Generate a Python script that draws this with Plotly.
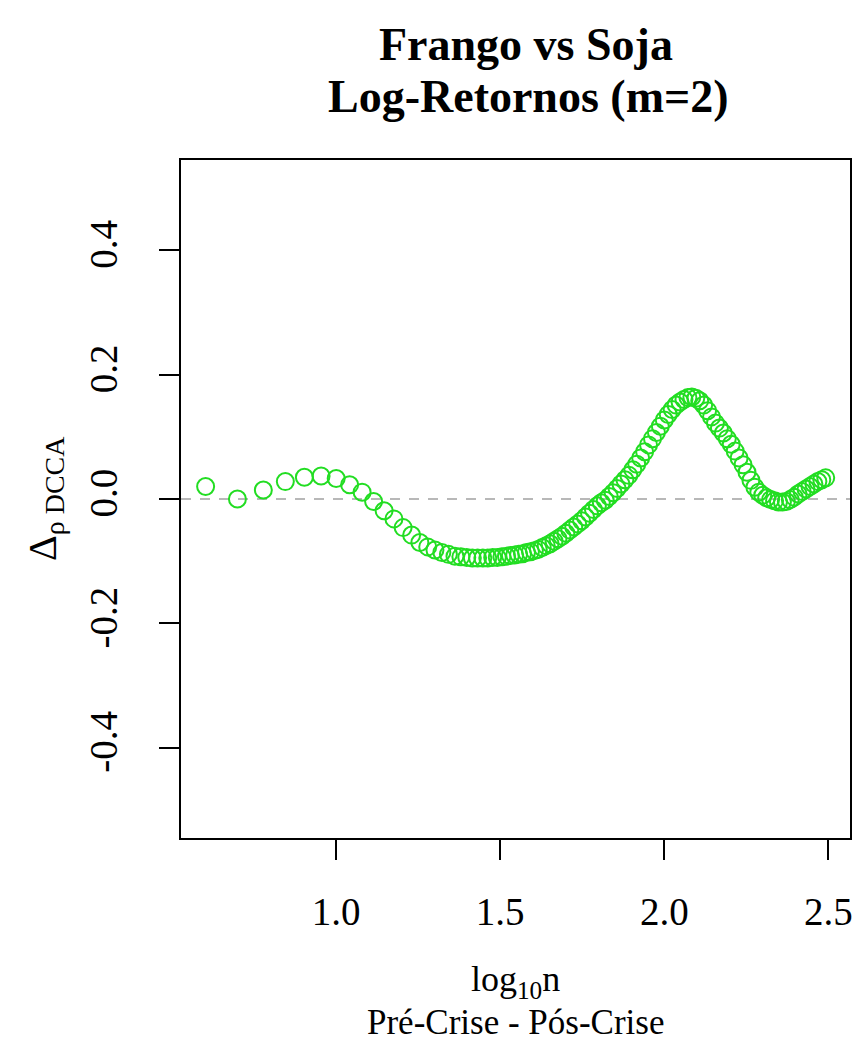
import plotly.graph_objects as go

# log10(n) window sizes
log_n = [0.602, 0.699, 0.778, 0.845, 0.903, 0.954, 1.000, 1.041, 1.079, 1.114,
         1.146, 1.176, 1.204, 1.230, 1.255, 1.279, 1.301, 1.322, 1.342, 1.362,
         1.380, 1.398, 1.415, 1.431, 1.447, 1.462, 1.477, 1.491, 1.505, 1.519,
         1.531, 1.544, 1.556, 1.568, 1.580, 1.592, 1.604, 1.616, 1.628, 1.640,
         1.652, 1.664, 1.676, 1.688, 1.700, 1.712, 1.724, 1.736, 1.748, 1.760,
         1.772, 1.784, 1.796, 1.808, 1.820, 1.832, 1.844, 1.856, 1.868, 1.880,
         1.892, 1.904, 1.916, 1.928, 1.940, 1.952, 1.964, 1.976, 1.988, 2.000,
         2.012, 2.024, 2.036, 2.048, 2.060, 2.072, 2.084, 2.096, 2.108, 2.120,
         2.132, 2.144, 2.156, 2.168, 2.180, 2.192, 2.204, 2.216, 2.228, 2.240,
         2.252, 2.264, 2.276, 2.288, 2.300, 2.312, 2.324, 2.336, 2.348, 2.360,
         2.372, 2.384, 2.396, 2.408, 2.420, 2.432, 2.444, 2.456, 2.468, 2.480,
         2.492]

# Delta rho_DCCA (pre-crisis minus post-crisis)
delta_rho = [0.020, 0.000, 0.0145, 0.028, 0.035, 0.037, 0.033, 0.023, 0.011, -0.004,
             -0.019, -0.032, -0.046, -0.058, -0.070, -0.077, -0.082, -0.086, -0.089, -0.092,
             -0.093, -0.094, -0.095, -0.095, -0.095, -0.095, -0.094, -0.094, -0.093, -0.092,
             -0.091, -0.090, -0.089, -0.088, -0.086, -0.085, -0.083, -0.081, -0.078, -0.075,
             -0.072, -0.068, -0.064, -0.060, -0.055, -0.050, -0.045, -0.040, -0.035, -0.029,
             -0.023, -0.017, -0.011, -0.006, -0.002, 0.004, 0.010, 0.017, 0.024, 0.031,
             0.038, 0.047, 0.056, 0.066, 0.076, 0.087, 0.097, 0.107, 0.117, 0.127,
             0.136, 0.144, 0.151, 0.156, 0.160, 0.163, 0.164, 0.162, 0.158, 0.151,
             0.142, 0.132, 0.122, 0.114, 0.106, 0.097, 0.088, 0.077, 0.066, 0.055,
             0.043, 0.030, 0.019, 0.011, 0.006, 0.002, -0.001, -0.003, -0.005, -0.005,
             -0.004, -0.001, 0.003, 0.008, 0.012, 0.016, 0.020, 0.024, 0.028, 0.031,
             0.034]

x_ticks = [1.0, 1.5, 2.0, 2.5]
x_tick_labels = ["1.0", "1.5", "2.0", "2.5"]
y_ticks = [-0.4, -0.2, 0.0, 0.2, 0.4]
y_tick_labels = ["-0.4", "-0.2", "0.0", "0.2", "0.4"]

FONT = "Liberation Serif, Times New Roman, serif"
XR = [0.527, 2.566]
YR = [-0.545, 0.545]

W, H = 854, 1043
PL, PR, PT, PB = 181, 850, 160, 838  # plot box in page pixels


def px(xpix):
    return (xpix - PL) / (PR - PL)


def py(ypix):
    return (PB - ypix) / (PB - PT)


fig = go.Figure()

# reference line at zero
fig.add_trace(go.Scatter(
    x=XR, y=[0, 0], mode="lines",
    line=dict(color="#b8b8b8", width=2, dash="10px,9px"),
    hoverinfo="skip", showlegend=False,
))

fig.add_trace(go.Scatter(
    x=log_n, y=delta_rho, mode="markers",
    marker=dict(symbol="circle-open", size=17, color="#22dd22",
                line=dict(width=2, color="#22dd22")),
    showlegend=False,
))

fig.update_layout(
    width=W, height=H,
    margin=dict(l=PL, r=W - PR, t=PT, b=H - PB, autoexpand=False),
    paper_bgcolor="white", plot_bgcolor="white",
    font=dict(family=FONT, size=38, color="black"),
    xaxis=dict(
        range=XR, showgrid=False, zeroline=False, automargin=False,
        showline=True, linecolor="black", linewidth=2, mirror=True,
        ticks="outside", ticklen=20, tickwidth=2, tickcolor="black",
        tickvals=x_ticks, ticktext=x_tick_labels,
        ticklabelstandoff=18,
        tickfont=dict(family=FONT, size=39, color="black"),
    ),
    yaxis=dict(
        range=YR, showgrid=False, zeroline=False, automargin=False,
        showline=True, linecolor="black", linewidth=2, mirror=True,
        ticks="outside", ticklen=20, tickwidth=2, tickcolor="black",
        tickvals=y_ticks, ticktext=y_tick_labels, tickangle=-90,
        ticklabelstandoff=26,
        tickfont=dict(family=FONT, size=39, color="black"),
    ),
    annotations=[
        dict(text="<b>Frango vs Soja</b>", xref="paper", yref="paper",
             x=px(526), y=py(44), xanchor="center", yanchor="middle",
             showarrow=False, font=dict(family=FONT, size=46, color="black")),
        dict(text="<b>Log-Retornos (m=2)</b>", xref="paper", yref="paper",
             x=px(528), y=py(96), xanchor="center", yanchor="middle",
             showarrow=False, font=dict(family=FONT, size=46, color="black")),
        dict(text="log<sub>10</sub>n", xref="paper", yref="paper",
             x=0.5, y=py(982), xanchor="center", yanchor="middle",
             showarrow=False, font=dict(family=FONT, size=36, color="black")),
        dict(text="Pré-Crise - Pós-Crise", xref="paper", yref="paper",
             x=0.5, y=py(1022), xanchor="center", yanchor="middle",
             showarrow=False, font=dict(family=FONT, size=35, color="black")),
        dict(text="Δ<sub>ρ DCCA</sub>", xref="paper", yref="paper",
             x=px(45), y=0.5, xanchor="center", yanchor="middle",
             textangle=-90,
             showarrow=False, font=dict(family=FONT, size=40, color="black")),
    ],
)

# remove the browser's default 8px page margin so the figure fills the window
fig.write_html(
    "out.html",
    config={"displayModeBar": False},
    post_script="document.body.style.margin='0';"
                "document.body.style.overflow='hidden';",
)
